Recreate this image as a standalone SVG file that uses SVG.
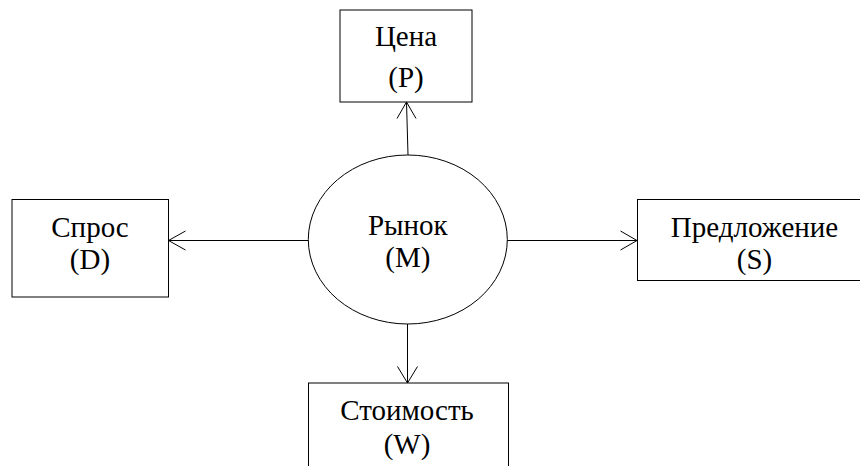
<svg xmlns="http://www.w3.org/2000/svg" width="860" height="466" viewBox="0 0 860 466">
<style>
.box{fill:#fff;stroke:#000;stroke-width:1}
.t{font-family:"Liberation Serif","Times New Roman",serif;font-size:29px;fill:#000;text-anchor:middle}
.c{stroke:#000;stroke-width:1;fill:none}
</style>
<rect width="860" height="466" fill="#fff"/>
<g id="connectors">
<line class="c" x1="408" y1="155" x2="406.5" y2="102"/>
<polyline class="c" points="397,118.5 406.5,102 416,118.5"/>
<line class="c" x1="308" y1="240.5" x2="168.5" y2="240.5"/>
<polyline class="c" points="185.5,231 168.5,240.5 185.5,250"/>
<line class="c" x1="507" y1="240.5" x2="637" y2="240.5"/>
<polyline class="c" points="620.5,231 637,240.5 620.5,250"/>
<line class="c" x1="407.5" y1="324" x2="407.5" y2="383"/>
<polyline class="c" points="397.5,366.5 407.5,383 417.5,366.5"/>
</g>
<g id="price">
<rect class="box" x="340" y="10" width="132" height="92"/>
<text class="t" x="406" y="46">Цена</text>
<text class="t" x="406" y="86.5">(P)</text>
</g>
<g id="demand">
<rect class="box" x="12" y="199.5" width="156.5" height="97.5"/>
<text class="t" x="90" y="236.5">Спрос</text>
<text class="t" x="90" y="269">(D)</text>
</g>
<g id="market">
<ellipse class="box" cx="407.8" cy="239.5" rx="99.5" ry="84.5"/>
<text class="t" x="407.8" y="235">Рынок</text>
<text class="t" x="407.8" y="267">(M)</text>
</g>
<g id="supply">
<rect class="box" x="637.5" y="199.5" width="240" height="81"/>
<text class="t" x="754.5" y="236.5">Предложение</text>
<text class="t" x="754.5" y="269">(S)</text>
</g>
<g id="value">
<rect class="box" x="308.5" y="383" width="200" height="100"/>
<text class="t" x="407" y="420">Стоимость</text>
<text class="t" x="407" y="454">(W)</text>
</g>
</svg>
